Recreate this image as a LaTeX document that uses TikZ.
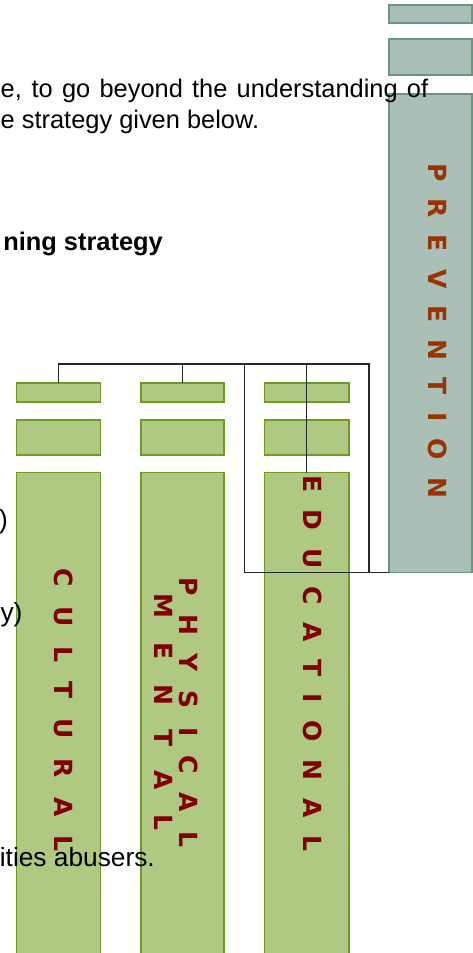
\documentclass[tikz,border=0pt]{standalone}
\usepackage{fontspec}
\setmainfont{Liberation Sans}
\newfontfamily\labfont{DejaVu Sans}
\definecolor{pfill}{HTML}{AABFB6}
\definecolor{pdraw}{HTML}{6B9583}
\definecolor{gfill}{HTML}{AFC882}
\definecolor{gdraw}{HTML}{6E9B20}
\definecolor{plab}{HTML}{993300}
\definecolor{glab}{HTML}{800000}
\newcommand{\spreadword}[2]{\hbox to #1{#2}}
\tikzset{
  pbox/.style={draw=pdraw, fill=pfill, line width=1.5pt, anchor=north west, inner sep=0pt, outer sep=0pt},
  gbox/.style={draw=gdraw, fill=gfill, line width=1.5pt, anchor=north west, inner sep=0pt, outer sep=0pt},
  conn/.style={draw=black!85, line width=1.2pt},
  vlab/.style={rotate=-90, inner sep=0pt, font=\labfont\bfseries\fontsize{25}{25}\selectfont, align=center},
  body/.style={inner sep=0pt, font=\fontsize{25.4}{31}\selectfont},
  bodyb/.style={inner sep=0pt, font=\fontsize{26.3}{31}\selectfont},
}
\begin{document}
\begin{tikzpicture}[x=1pt, y=-1pt]
\clip (0,0) rectangle (473,953);
\fill[white] (0,0) rectangle (473,953);
% Prevention column
\node[pbox, minimum width=83pt, minimum height=18pt] (P1) at (389,5) {};
\node[pbox, minimum width=83pt, minimum height=36pt] (P2) at (389,39) {};
\node[pbox, minimum width=83pt, minimum height=478.7pt] (P3) at (389,94) {};
% green columns
\node[gbox, minimum width=84pt, minimum height=19pt] (C1a) at (16.7,383) {};
\node[gbox, minimum width=84pt, minimum height=35pt] (C1b) at (16.7,420) {};
\node[gbox, minimum width=84pt, minimum height=490pt] (C1c) at (16.7,472.7) {};
\node[gbox, minimum width=83pt, minimum height=19pt] (C2a) at (141,383) {};
\node[gbox, minimum width=83pt, minimum height=35pt] (C2b) at (141,420) {};
\node[gbox, minimum width=83pt, minimum height=490pt] (C2c) at (141,472.7) {};
\node[gbox, minimum width=84.3pt, minimum height=19pt] (C3a) at (264.7,383) {};
\node[gbox, minimum width=84.3pt, minimum height=35pt] (C3b) at (264.7,420) {};
\node[gbox, minimum width=84.3pt, minimum height=490pt] (C3c) at (264.7,472.7) {};
% connectors
\coordinate (busL) at (58.7,364);
\coordinate (busR) at (369,364);
\coordinate (loopT) at (244.7,364);
\coordinate (loopB) at (244.7,572.7);
\coordinate (busRb) at (369,572.7);
\draw[conn] (C1a.north) -- (busL) -- (busR) -- (busRb) -- (busRb -| P3.west);
\draw[conn] (C2a.north) -- (C2a.north |- busL);
\draw[conn] (C3c.north) -- (C3c.north |- busL);
\draw[conn] (loopT) -- (loopB) -- (busRb);
% vertical labels
\node[vlab, text=plab] (LP) at (437.3,330.5) {\spreadword{335pt}{P\hfil R\hfil E\hfil V\hfil E\hfil N\hfil T\hfil I\hfil O\hfil N}};
\node[vlab, text=glab] (L1) at (63.3,710.3) {\spreadword{283pt}{C\hfil U\hfil L\hfil T\hfil U\hfil R\hfil A\hfil L}};
\node[vlab, text=glab] (L2) at (176.5,712) {\spreadword{270pt}{P\hfil H\hfil Y\hfil S\hfil I\hfil C\hfil A\hfil L}\\ \spreadword{237pt}{M\hfil E\hfil N\hfil T\hfil A\hfil L}};
\node[vlab, text=glab] (L3) at (312.8,663) {\spreadword{376pt}{E\hfil D\hfil U\hfil C\hfil A\hfil T\hfil I\hfil O\hfil N\hfil A\hfil L}};
% body text
\node[body, anchor=base west] (t1) at (0.5,97) {\makebox[427.5pt][s]{e, to go beyond the understanding of}};
\node[body, anchor=base west] (t2) at (0.5,128) {e strategy given below.};
\node[body, anchor=base east, font=\bfseries\fontsize{25.4}{31}\selectfont] (t3) at (163,250) {ning strategy};
\node[bodyb, anchor=base west] (t4) at (-1,528) {)};
\node[bodyb, anchor=base east] (t5) at (22.7,621) {y)};
\node[bodyb, anchor=base east] (t6) at (155,866) {ities abusers.};
\end{tikzpicture}
\end{document}
